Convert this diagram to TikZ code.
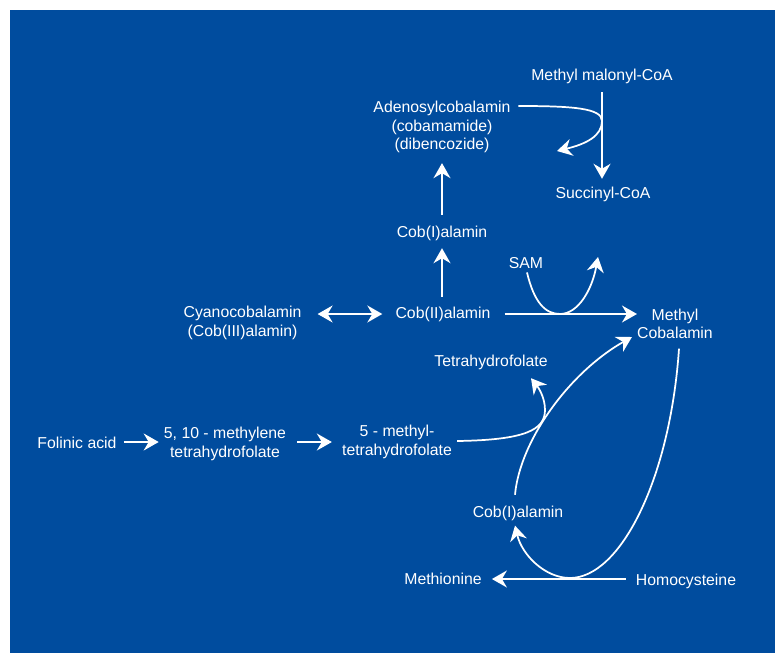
\documentclass[tikz,border=0pt]{standalone}
\usepackage{fontspec}
\setmainfont{Liberation Sans}
\usetikzlibrary{arrows.meta,calc}
\definecolor{bgblue}{RGB}{0,76,158}
\begin{document}
\begin{tikzpicture}[x=0.75pt,y=-0.75pt,
  lbl/.style={text=white,font=\fontsize{11.85}{13.9}\selectfont,align=center,inner sep=0pt},
  tip/.tip={Stealth[length=11.25pt,width=12.75pt,inset=3.75pt]},
  arr/.style={draw=white,line width=1.3pt,-tip},
  darr/.style={draw=white,line width=1.3pt,tip-tip}]
\useasboundingbox (0,0) rectangle (775,653);
\fill[white] (0,0) rectangle (775,653);
\fill[bgblue] (10,10) rectangle (775,653);

\node[lbl] (mmcoa) at (602,76) {Methyl malonyl-CoA};
\node[lbl] (adeno) at (442,127) {Adenosylcobalamin\\(cobamamide)\\(dibencozide)};
\node[lbl] (succ) at (603,194) {Succinyl-CoA};
\node[lbl] (cobIa) at (442,233) {Cob(I)alamin};
\node[lbl] (sam) at (526,263) {SAM};
\node[lbl] (cyano) at (242.5,323) {Cyanocobalamin\\(Cob(III)alamin)};
\node[lbl] (cobII) at (443,314) {Cob(II)alamin};
\node[lbl] (mecbl) at (675,324) {Methyl\\Cobalamin};
\node[lbl] (thf) at (491,362) {Tetrahydrofolate};
\node[lbl] (folinic) at (77,443) {Folinic acid};
\node[lbl] (mthf) at (225,444) {5, 10 - methylene\\tetrahydrofolate};
\node[lbl] (methyl) at (397,442) {5 - methyl-\\tetrahydrofolate};
\node[lbl] (cobIb) at (518,513) {Cob(I)alamin};
\node[lbl] (met) at (443,579) {Methionine};
\node[lbl] (hcy) at (686,581) {Homocysteine};

% Methyl malonyl-CoA -> Succinyl-CoA
\draw[arr] ($(mmcoa.south)+(0,8.6)$) -- ($(succ.north)+(-1,-7.6)$);
% Adenosylcobalamin curve
\coordinate (adtip) at (557,151);
\draw[arr] ($(adeno.east)+(7.5,-21)$) .. controls (572,106) and (602,108) .. (602,121)
  .. controls (602,136) and (586,144) .. (adtip);
% Cob(I)alamin -> Adenosylcobalamin
\draw[arr] ($(cobIa.north)+(0,-10.6)$) -- ($(adeno.south)+(0,10)$);
% Cob(II)alamin -> Cob(I)alamin
\draw[arr] ($(cobII.north)+(-1,-9.6)$) -- ($(cobIa.south)+(0,7.6)$);
% Cyanocobalamin <-> Cob(II)alamin
\draw[darr] ($(cyano.east)+(16,-9)$) -- ($(cobII.west)+(-13,0)$);
% Cob(II)alamin -> Methyl Cobalamin
\draw[arr] ($(cobII.east)+(14,0)$) -- ($(mecbl.west)+(0,-10)$);
% SAM curve
\coordinate (samtip) at (598,257);
\draw[arr] ($(sam.south)+(1,3.6)$) .. controls (534,302) and (545,314) .. (560,314)
  .. controls (578,314) and (592,290) .. (samtip);
% Folinic acid -> 5,10-methylene
\draw[arr] ($(folinic.east)+(7,-1)$) -- ($(mthf.west)+(-5,-2)$);
% 5,10-methylene -> 5-methyl
\draw[arr] ($(mthf.east)+(11,-2)$) -- ($(methyl.west)+(-10,0)$);
% 5-methyl -> Tetrahydrofolate
\draw[arr] ($(methyl.east)+(5,-1)$) .. controls (525,440) and (545,430) .. (545,410)
  .. controls (545,397) and (538,387) .. ($(thf.south)+(40,8.6)$);
% Cob(I)alamin -> Methyl Cobalamin
\draw[arr] ($(cobIb.north)+(-3,-10.6)$) .. controls (520,440) and (570,372) .. ($(mecbl.west)+(-5,13)$);
% Methyl Cobalamin -> Cob(I)alamin (via bottom)
\draw[arr] ($(mecbl.south)+(4,9.35)$) .. controls (670,480) and (620,578) .. (570,578)
  .. controls (545,578) and (522,555) .. ($(cobIb.south)+(-3,5)$);
% Homocysteine -> Methionine
\draw[arr] ($(hcy.west)+(-10,-2)$) -- ($(met.east)+(10,0)$);
\end{tikzpicture}
\end{document}
